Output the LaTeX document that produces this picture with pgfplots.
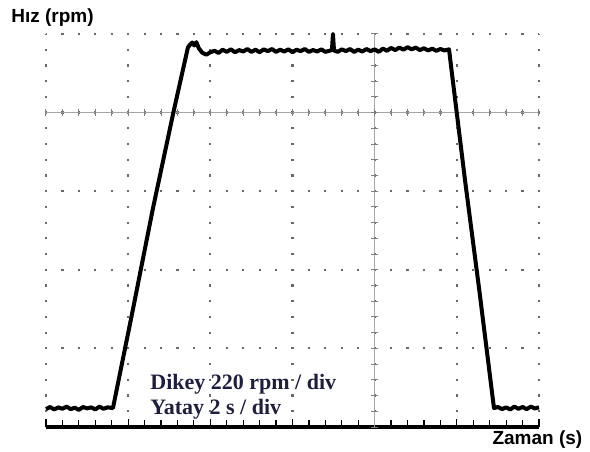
\documentclass[border=0pt]{standalone}
\usepackage{fontspec}
\setmainfont{Liberation Serif}
\newfontfamily\sansfont{Liberation Sans}
\usepackage{pgfplots}
\pgfplotsset{compat=1.18}
\definecolor{txtnavy}{RGB}{30,30,62}
\definecolor{dotgray}{RGB}{105,105,105}
\begin{document}
\begin{tikzpicture}
\useasboundingbox (-23pt,-12pt) rectangle (272pt,213.5pt);
\begin{axis}[
    at={(0,0)}, anchor=south west,
    scale only axis, width=246.5pt, height=196.5pt,
    xmin=0, xmax=12, ymin=0, ymax=1100,
    clip=false,
    axis line style={draw=none},
    xtick={0,2,...,12}, ytick={0,220,...,1100},
    xticklabels={}, yticklabels={},
    minor x tick num=4,
    xtick pos=left,
    tick align=inside,
    major tick length=4pt, minor tick length=3.5pt,
    x tick style={black, line width=0.6pt},
    y tick style={draw=none},
    grid=major,
    major x grid style={dotgray, line width=1.1pt, dash pattern=on 1.1pt off 6.76pt, dash phase=0.55pt},
    major y grid style={dotgray, line width=1.1pt, dash pattern=on 1.1pt off 7.117pt, dash phase=0.55pt},
    extra y ticks={0}, extra y tick labels={},
    extra y tick style={grid=major, major y grid style={black, line width=2pt, solid}},
]
% centre cross of the graticule
\draw[gray!70, line width=0.5pt] (axis cs:8,0) -- (axis cs:8,1100);
\draw[gray!70, line width=0.5pt] (axis cs:0,880) -- (axis cs:12,880);
\pgfplotsinvokeforeach{0,0.4,...,12}{
  \draw[gray, line width=0.5pt] (axis cs:#1,880) ++(0,-1.7pt) -- ++(0,3.4pt);
}
\pgfplotsinvokeforeach{0,44,...,1100}{
  \draw[gray, line width=0.5pt] (axis cs:8,#1) ++(-1.7pt,0) -- ++(3.4pt,0);
}

\addplot[black, line width=2pt, line join=round] coordinates {
  (0,50) (0.1,56) (0.2,49) (0.3,55) (0.4,51) (0.5,57) (0.6,50) (0.7,54)
  (0.8,48) (0.9,56) (1.0,52) (1.1,55) (1.2,49) (1.3,57) (1.4,51) (1.5,55)
  (1.63,53)
  (2.1,320) (2.6,610) (3.1,880) (3.456,1063)
  (3.52,1072) (3.56,1076) (3.61,1068) (3.66,1077) (3.72,1060) (3.8,1048)
  (3.9,1042) (4.0,1049) (4.1,1053) (4.2,1047) (4.3,1056) (4.4,1050)
  (4.5,1057) (4.6,1049) (4.7,1055) (4.8,1051) (4.9,1058) (5.0,1050)
  (5.1,1056) (5.2,1049) (5.3,1057) (5.4,1052) (5.5,1058) (5.6,1050)
  (5.7,1056) (5.8,1051) (5.9,1057) (6.0,1049) (6.1,1056) (6.2,1052)
  (6.3,1058) (6.4,1050) (6.5,1055) (6.6,1051) (6.7,1057) (6.8,1050)
  (6.96,1055) (6.985,1100) (7.01,1054)
  (7.1,1050) (7.2,1057) (7.3,1052) (7.4,1058) (7.5,1050) (7.6,1056)
  (7.7,1051) (7.8,1058) (7.9,1052) (8.0,1057) (8.1,1050) (8.2,1059)
  (8.3,1053) (8.4,1061) (8.5,1055) (8.6,1062) (8.7,1056) (8.8,1063)
  (8.9,1057) (9.0,1062) (9.1,1055) (9.2,1060) (9.3,1054) (9.4,1059)
  (9.5,1053) (9.6,1058) (9.7,1054) (9.81,1057)
  (9.87,1000) (10.2,690) (10.55,380) (10.904,53)
  (11.0,56) (11.1,50) (11.2,55) (11.3,49) (11.4,57) (11.5,51) (11.6,56)
  (11.7,50) (11.8,57) (11.9,52) (12.0,55)
};

\node[anchor=west, inner sep=0pt, font=\sansfont\bfseries\fontsize{9.5}{10}\selectfont]
  at (axis description cs:-0.071,1.041) {Hız (rpm)};
\node[anchor=west, inner sep=0pt, font=\sansfont\bfseries\fontsize{9.5}{10}\selectfont]
  at (axis description cs:0.905,-0.033) {Zaman (s)};
\node[anchor=west, inner sep=0pt, text=txtnavy, font=\bfseries\fontsize{11}{12}\selectfont]
  at (axis description cs:0.211,0.109) {Dikey 220 rpm / div};
\node[anchor=west, inner sep=0pt, text=txtnavy, font=\bfseries\fontsize{11}{12}\selectfont]
  at (axis description cs:0.211,0.046) {Yatay 2 s / div};
\end{axis}
\end{tikzpicture}
\end{document}
